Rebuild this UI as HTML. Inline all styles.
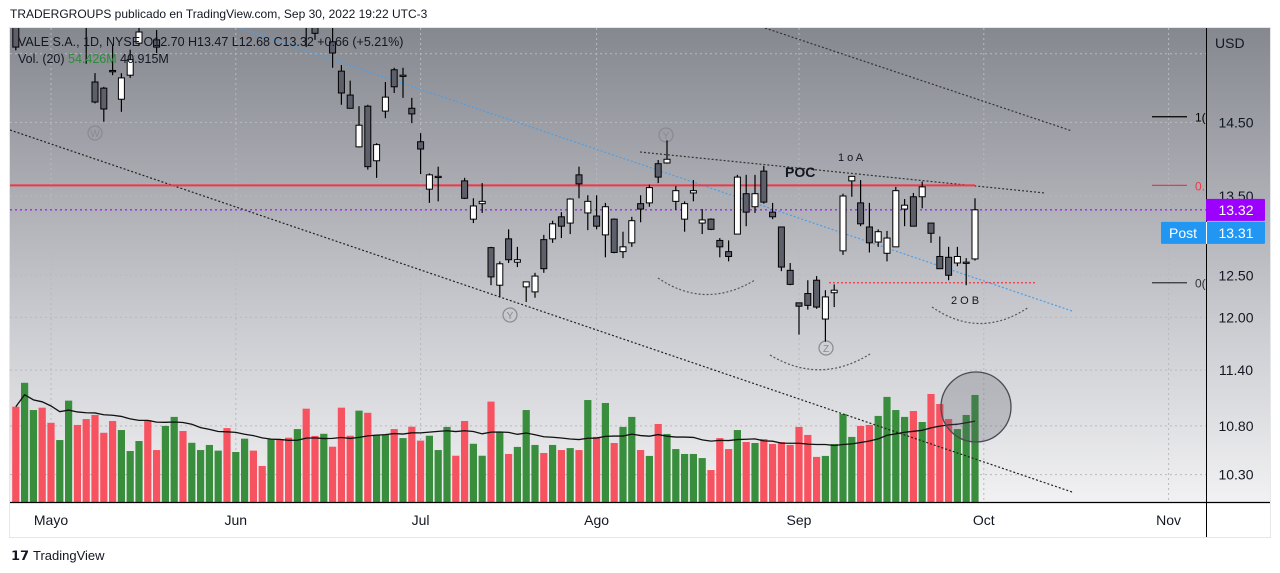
<!DOCTYPE html>
<html><head><meta charset="utf-8">
<style>
html,body{margin:0;padding:0;background:#fff;width:1280px;height:573px;overflow:hidden;font-family:"Liberation Sans",sans-serif;}
svg{position:absolute;left:0;top:0;}
</style></head>
<body>
<svg id="chart" width="1280" height="573" viewBox="0 0 1280 573" xmlns="http://www.w3.org/2000/svg">
<defs>
<linearGradient id="bg" x1="0" y1="0" x2="0" y2="1">
<stop offset="0" stop-color="#868890"/><stop offset="0.6" stop-color="#c8c9ce"/><stop offset="1" stop-color="#f1f1f3"/>
</linearGradient>
<clipPath id="plotClip"><rect x="10" y="28" width="1196" height="474"/></clipPath>
</defs>
<text x="10" y="18" font-size="12" fill="#131722">TRADERGROUPS publicado en TradingView.com, Sep 30, 2022 19:22 UTC-3</text>
<rect x="9.5" y="27.5" width="1261" height="510" fill="#fff" stroke="#e6e7ea"/>
<rect x="10" y="28" width="1260" height="474" fill="url(#bg)"/>
<g id="grid"></g>
<g id="vol" clip-path="url(#plotClip)"></g>
<g id="draw" clip-path="url(#plotClip)"></g>
<g id="candles" clip-path="url(#plotClip)"></g>
<g id="axes"></g>
<text x="18" y="46" font-size="12.5" fill="#131722">VALE S.A., 1D, NYSE  O12.70  H13.47  L12.68  C13.32  +0.66 (+5.21%)</text>
<text x="18" y="63" font-size="12.5" fill="#131722">Vol. (20) <tspan fill="#2e8b3a">54.426M</tspan>  40.915M</text>
<g>
<text x="11" y="560" font-size="13" font-weight="bold" fill="#131722">𝟭𝟳</text>
<text x="33" y="560" font-size="13" fill="#131722">TradingView</text>
</g>
</svg>
<script>
const NS="http://www.w3.org/2000/svg";
const opens=[16.2,16.3,16.8,17.2,16.6,16.4,16.7,16.4,16.4,15.08,14.99,15.25,14.83,15.18,15.66,16.3,15.71,16.0,16.4,16.8,16.5,17.0,17.3,17.5,17.8,17.4,17.7,17.9,17.5,17.0,17.3,16.8,16.4,16.6,16.3,15.96,15.68,15.24,14.89,14.16,14.73,13.97,14.66,15.26,15.17,14.70,14.23,13.59,13.75,null,null,13.70,13.20,13.40,12.84,12.38,12.95,12.66,12.36,12.30,12.94,12.95,13.23,13.15,13.78,13.28,13.24,13.00,13.20,12.79,12.90,13.40,13.41,13.93,13.94,13.43,13.20,13.54,13.15,13.20,12.93,12.79,13.01,13.53,13.36,13.83,13.29,13.10,12.56,12.17,12.28,12.44,11.98,12.29,12.80,13.70,13.41,13.10,12.91,12.77,12.85,13.33,13.49,13.49,13.15,12.73,12.72,12.65,12.66,12.70];
const highs=[16.4,17.0,17.4,17.3,16.8,16.9,16.9,16.5,16.5,15.21,15.01,15.63,15.21,15.56,16.0,16.5,15.86,16.5,16.9,17.0,17.1,17.4,17.6,17.9,17.9,17.8,18.1,18.0,17.6,17.4,17.4,16.9,16.8,16.7,16.4,16.2,16.0,15.33,15.10,14.73,14.75,14.21,15.08,15.29,15.29,14.85,14.35,13.80,13.89,null,null,13.74,13.47,13.67,12.85,12.67,13.07,12.85,12.42,12.53,13.00,13.18,13.29,13.47,13.89,13.51,13.51,13.41,13.21,13.04,13.23,13.51,13.65,13.98,14.25,13.63,13.43,13.71,13.33,13.21,12.96,12.93,13.78,13.78,13.78,13.90,13.41,13.10,12.65,12.17,12.44,12.49,12.32,12.39,13.53,13.76,13.71,13.41,13.07,13.05,13.62,13.46,13.54,13.69,13.15,12.98,12.85,12.85,12.71,13.47];
const lows=[15.55,16.1,16.6,16.5,16.1,15.95,15.95,15.95,15.35,14.77,14.51,15.18,14.65,15.14,15.63,15.9,15.51,15.96,16.3,16.4,16.4,16.9,17.1,17.3,17.3,17.2,17.5,17.4,16.9,16.8,16.7,16.3,16.2,15.60,15.71,15.95,15.29,14.75,14.70,14.15,13.85,13.74,14.56,14.92,14.85,14.49,13.79,13.41,13.43,null,null,13.46,13.15,13.28,12.38,12.24,12.65,12.60,12.18,12.23,12.53,12.90,12.96,13.01,13.47,13.06,13.07,12.72,12.77,12.71,12.85,13.16,13.36,13.67,13.93,13.32,13.04,13.43,13.01,13.06,12.72,12.67,13.01,13.11,13.28,13.40,13.20,12.55,12.38,11.80,12.09,12.10,11.72,12.12,12.75,13.49,13.11,12.78,12.85,12.67,12.85,13.11,13.11,13.34,12.90,12.58,12.44,12.61,12.38,12.68];
const closes=[15.6,16.8,17.2,16.6,16.3,16.7,16.9,16.3,16.0,14.79,14.69,15.23,15.14,15.41,15.83,16.0,15.60,16.4,16.8,16.5,17.0,17.3,17.5,17.8,17.4,17.7,17.9,17.5,17.0,17.3,16.8,16.4,16.6,16.1,15.81,16.1,15.51,14.92,14.70,14.46,13.89,14.19,14.86,15.01,15.18,14.62,14.13,13.78,13.76,null,null,13.47,13.37,13.43,12.48,12.64,12.69,12.69,12.42,12.49,12.58,13.14,13.11,13.46,13.66,13.43,13.11,13.36,12.78,12.85,13.18,13.33,13.61,13.75,13.99,13.57,13.40,13.57,13.19,13.07,12.85,12.73,13.75,13.29,13.53,13.42,13.23,12.60,12.39,12.13,12.14,12.12,12.24,12.32,13.50,13.76,13.14,12.90,13.04,12.96,13.57,13.38,13.11,13.62,13.02,12.58,12.50,12.73,12.66,13.32];
const volumes=[48.6,60.8,46.9,48.1,40.4,31.6,51.7,39.3,42.3,44.4,35.3,41.3,36.7,26.0,31.1,41.8,26.5,38.8,43.4,36.2,30.2,26.5,29.1,26.2,37.7,25.5,32.3,26.2,18.4,32.0,32.0,32.8,37.2,47.6,33.7,34.8,28.2,48.1,33.8,46.6,45.5,34.2,34.2,37.2,32.6,38.4,31.3,33.8,26.5,38.3,23.6,41.3,29.7,23.6,51.2,35.9,24.5,28.1,46.9,29.1,25.0,29.1,26.5,27.5,26.5,52.0,33.2,50.5,30.1,38.3,43.4,26.5,23.5,39.8,34.7,27.0,24.5,24.5,22.4,16.3,32.6,27.0,36.7,30.6,30.1,32.1,29.6,30.6,29.1,38.3,34.2,23.0,23.5,29.6,44.9,33.2,38.8,39.3,43.9,53.6,46.9,43.4,46.4,40.8,55.1,50.0,42.3,37.2,44.4,54.6];
const volUp=[0,1,1,0,0,1,1,0,0,0,0,0,1,1,1,0,0,1,1,0,1,1,1,1,0,1,1,0,0,1,0,0,1,0,0,1,0,0,0,1,0,1,1,0,1,0,0,1,1,1,0,0,1,1,0,1,0,1,1,1,0,1,0,1,0,1,0,1,0,1,1,0,1,0,1,1,1,1,1,0,0,0,1,0,1,0,0,0,0,0,0,0,1,1,1,1,0,0,1,1,1,1,0,1,0,0,0,1,1,1];
const priceTicks=[15.5,14.5,13.5,12.5,12.0,11.4,10.8,10.3];
const priceTickLabels=["15.50","14.50","13.50","12.50","12.00","11.40","10.80","10.30"];
const monthLabels=["Mayo","Jun","Jul","Ago","Sep","Oct","Nov"];
const monthIndex=[4,25,46,66,89,110,131];
const lastPrice=13.32, postPrice=13.31, pocPrice=13.64;

function xOf(i){return 15.8+8.8*i;}
function yOf(p){return 196+(Math.log(13.5)-Math.log(p))*1030;}
function vY(v){return 502-v/0.51;}
function mk(tag,attrs,parent){const e=document.createElementNS(NS,tag);for(const k in attrs)e.setAttribute(k,attrs[k]);parent.appendChild(e);return e;}

const grid=document.getElementById('grid');
priceTicks.forEach((p,i)=>{
  const l=mk('line',{x1:10,x2:1206,y1:yOf(p),y2:yOf(p),stroke:'#b8b9be','stroke-dasharray':'2,3','stroke-width':1},grid);
  
  
});
monthIndex.forEach((m,i)=>{
  const l=mk('line',{x1:xOf(m),x2:xOf(m),y1:28,y2:502,stroke:'#b8b9be','stroke-dasharray':'2,3','stroke-width':1},grid);
  
  
});

const vol=document.getElementById('vol');
volumes.forEach((v,i)=>{
  const r=mk('rect',{x:xOf(i)-3.6,y:vY(v),width:7.2,height:502-vY(v),fill:volUp[i]?'#388e3c':'#f7525f'},vol);
  
  
});
let pts=[];
volumes.forEach((v,i)=>{const s=Math.max(0,i-19);let sum=0;for(let j=s;j<=i;j++)sum+=volumes[j];pts.push(xOf(i)+','+vY(sum/(i-s+1)));});
const ma=mk('polyline',{points:pts.join(' '),fill:'none',stroke:'#111','stroke-width':1.3},vol);



const dr=document.getElementById('draw');
function dl(x1,y1,x2,y2,col,dash,w,name){const l=mk('line',{x1,y1,x2,y2,stroke:col,'stroke-dasharray':dash,'stroke-width':w},dr);return l;}
dl(10,130,1072,492,'#222','2,2',1.2,'lower-channel-line');
dl(765,28,1072,131,'#333','2,2',1.2,'upper-channel-line');
dl(640,152,1045,193,'#333','2,2',1.2,'poc-trendline');
dl(237,27,1072,311,'#4a9fe8','2,2',1.2,'blue-trendline');
dl(10,yOf(lastPrice),1206,yOf(lastPrice),'#9c27f0','2,3',1.3,'last-price-line');
dl(829,yOf(12.41),1037,yOf(12.41),'#f23645','2,2',1.2,'support-dotted-line');
const poc=dl(10,yOf(pocPrice),975,yOf(pocPrice),'#f23645','',2,'poc-line');
poc.removeAttribute('stroke-dasharray');
function arc(d,name){const p=mk('path',{d,fill:'none',stroke:'#555','stroke-dasharray':'2,2','stroke-width':1.2},dr);}
arc('M658,278 Q705,310 755,280','arc-1');
arc('M770,355 Q820,385 870,354','arc-2');
arc('M932,307 Q980,340 1029,307','arc-3');
function circ(x,y,t,name){const g=mk('g',{},dr);
 mk('circle',{cx:x,cy:y,r:7,fill:'none',stroke:'#8a8a90','stroke-width':1.2},g);
 const tx=mk('text',{x:x,y:y+4,'font-size':10,'text-anchor':'middle',fill:'#8a8a90'},g);tx.textContent=t;}
circ(95,133,'W','wave-w-label');circ(666,135,'Y','wave-y-label-top');circ(510,315,'Y','wave-y-label');circ(826,348,'Z','wave-z-label');
function txt(x,y,t,sz,w,name,anchor){const e=mk('text',{x,y,'font-size':sz,'font-weight':w,fill:'#131722','text-anchor':anchor||'start'},dr);e.textContent=t;}
txt(785,177,'POC',14,'bold','poc-label');
txt(838,161,'1 o A',11,'normal','label-1oa');
txt(951,304,'2 O B',11,'normal','label-2ob');
const bc=mk('circle',{cx:976,cy:407,r:35,fill:'rgba(90,92,104,0.28)',stroke:'#4a4b55','stroke-width':1.3},dr);



const cg=document.getElementById('candles');
opens.forEach((o,i)=>{
  if(o===null)return;
  const c=closes[i],x=xOf(i);
  const g=mk('g',{},cg);
  
  
  mk('line',{x1:x,x2:x,y1:yOf(highs[i]),y2:yOf(lows[i]),stroke:'#000','stroke-width':1.2},g);
  const top=yOf(Math.max(o,c)),bot=yOf(Math.min(o,c));
  mk('rect',{x:x-3,y:top,width:6,height:Math.max(1.2,bot-top),fill:c>=o?'#ffffff':'#5d606b',stroke:'#000','stroke-width':1},g);
});

const ax=document.getElementById('axes');
mk('line',{x1:10,x2:1270,y1:502.5,y2:502.5,stroke:'#000','stroke-width':1.2},ax);
mk('line',{x1:1206.5,x2:1206.5,y1:28,y2:537,stroke:'#000','stroke-width':1},ax);
const usd=mk('text',{x:1215,y:48,'font-size':14,fill:'#131722'},ax);usd.textContent='USD';


priceTicks.forEach((p,i)=>{
  if(p===15.5)return;
  const t=mk('text',{x:1236,y:yOf(p)+5,'font-size':14,'text-anchor':'middle',fill:'#131722'},ax);
  t.textContent=priceTickLabels[i];
  
  
});
monthLabels.forEach((m,i)=>{
  const t=mk('text',{x:xOf(monthIndex[i]),y:525,'font-size':14,'text-anchor':'middle',fill:'#131722'},ax);
  t.textContent=m;
  
  
});
[[14.58,'#000','1('],[13.64,'#f23645','0.'],[12.41,'#333','0(']].forEach(f=>{
  const g=mk('g',{},ax);
  
  
  mk('line',{x1:1152,x2:1187,y1:yOf(f[0]),y2:yOf(f[0]),stroke:f[1],'stroke-width':1.2},g);
  const t=mk('text',{x:1195,y:yOf(f[0])+5,'font-size':12,fill:f[1]},g);t.textContent=f[2];
});
const lp=mk('g',{},ax);


mk('rect',{x:1206,y:yOf(lastPrice)-11,width:59,height:22,fill:'#9c00ff',rx:1},lp);
const lpt=mk('text',{x:1236,y:yOf(lastPrice)+5,'font-size':14,'text-anchor':'middle',fill:'#fff'},lp);lpt.textContent=lastPrice.toFixed(2);
const pp=mk('g',{},ax);


const py=yOf(lastPrice)+23;
mk('rect',{x:1161,y:py-11,width:104,height:22,fill:'#2196f3',rx:1},pp);
mk('line',{x1:1206.5,x2:1206.5,y1:py-11,y2:py+11,stroke:'#fff','stroke-width':1},pp);
const ppt=mk('text',{x:1183,y:py+5,'font-size':14,'text-anchor':'middle',fill:'#fff'},pp);ppt.textContent='Post';
const ppv=mk('text',{x:1236,y:py+5,'font-size':14,'text-anchor':'middle',fill:'#fff'},pp);ppv.textContent=postPrice.toFixed(2);
</script>
</body></html>
